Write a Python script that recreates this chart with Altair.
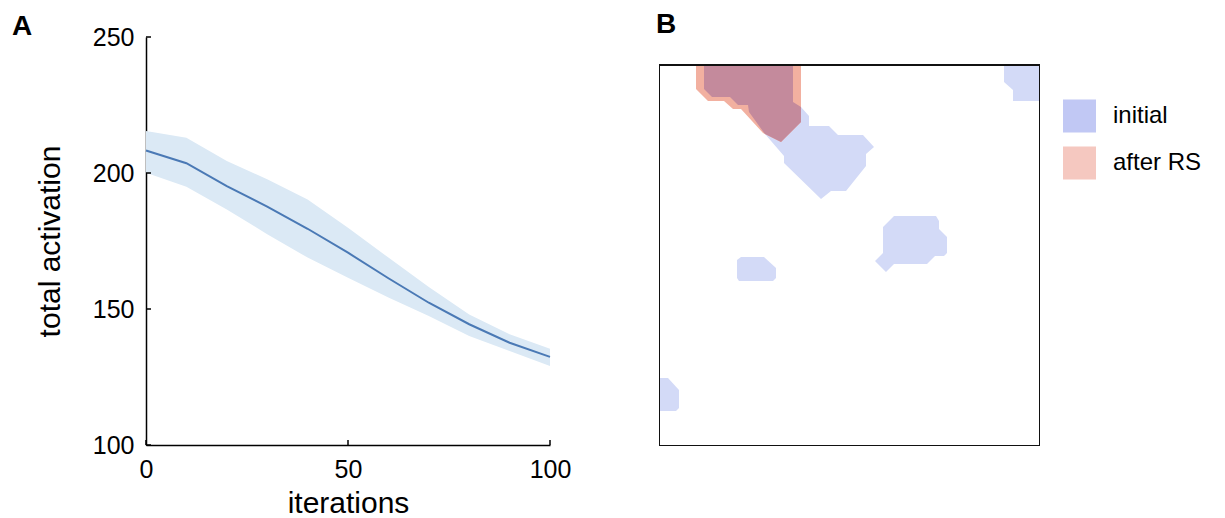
import altair as alt
import pandas as pd

# ---------------- Panel A data ----------------
iterations = [0, 10, 20, 30, 40, 50, 60, 70, 80, 90, 100]
activation_mean = [208.3, 203.6, 195.2, 187.6, 179.5, 170.7, 161.3, 152.3, 144.4, 137.6, 132.4]
activation_upper = [215.4, 213.0, 204.4, 197.7, 190.3, 179.9, 168.9, 158.1, 148.0, 140.7, 135.4]
activation_lower = [200.1, 194.9, 186.6, 177.5, 168.9, 161.5, 154.2, 147.4, 140.1, 134.6, 129.0]
y_ticks = [100, 150, 200, 250]
x_ticks = [0, 50, 100]

# ---------------- Panel B data (contour outlines on a square grid, x right, y down) ----------------
grid_size = 381
initial_blobs = [
    [[45, 0], [134, 0], [134, 37], [142, 42], [150, 51], [150, 61], [170, 61], [179, 70], [204, 70],
     [215, 82], [207, 89], [207, 101], [187, 126], [172, 126], [162, 134], [125, 98], [125, 91],
     [106, 69], [90, 47], [89, 40], [79, 40], [71, 32], [53, 32], [45, 24]],
    [[345, 0], [381, 0], [381, 36], [354, 36], [354, 25], [345, 17]],
    [[224, 162], [235, 151], [277, 151], [280, 156], [280, 164], [288, 172], [288, 188], [285, 191],
     [276, 191], [268, 199], [235, 199], [227, 207], [216, 196], [224, 188]],
    [[78, 195], [82, 192], [105, 192], [117, 203], [117, 213], [114, 216], [80, 216], [78, 213]],
    [[0, 313], [9, 313], [20, 325], [20, 343], [17, 346], [0, 346]],
]
after_rs_blobs = [
    [[37, 0], [142, 0], [142, 57], [122, 77], [104, 68], [82, 44], [74, 44], [65, 36], [49, 36], [37, 24]],
]
# region where both contours overlap (drawn in the darker mixed colour)
overlap_blobs = [
    [[45, 0], [134, 0], [134, 37], [142, 42], [142, 57], [122, 77], [106, 69], [90, 47], [89, 40],
     [79, 40], [71, 32], [53, 32], [45, 24]],
]
legend_labels = ["initial", "after RS"]
legend_colors = ["#c1c8f4", "#f5c8c0"]
fill_initial = "#d3daf7"
fill_after = "#f2b0a0"
fill_overlap = "#c48a9c"

FONT = "Liberation Sans"


def features(blobs, state):
    return [
        {"type": "Feature", "properties": {"state": state},
         "geometry": {"type": "Polygon", "coordinates": [ring + [ring[0]]]}}
        for ring in blobs
    ]


frame = [[[0, 0], [grid_size, 0], [grid_size, grid_size], [0, grid_size]]]

# ---------------- Panel A ----------------
dfA = pd.DataFrame({"iteration": iterations, "mean": activation_mean,
                    "upper": activation_upper, "lower": activation_lower})
xs = alt.Scale(domain=[0, 100], nice=False)
ys = alt.Scale(domain=[100, 250], nice=False)
x_axis = alt.Axis(values=x_ticks, title="iterations", titleFontSize=30, titleFontWeight="normal",
                  titleColor="black", titlePadding=6, labelFontSize=25, labelColor="black",
                  labelPadding=12, ticks=False, tickSize=0, domainColor="black", domainWidth=1.5,
                  grid=False, labelFlush=False, labelOverlap=False)
y_axis = alt.Axis(values=y_ticks, title="total activation", titleFontSize=30, titleFontWeight="normal",
                  titleColor="black", titlePadding=27, labelFontSize=25, labelColor="black",
                  labelPadding=12, ticks=False, tickSize=0, domainColor="black", domainWidth=1.5,
                  grid=False, labelFlush=False, labelOverlap=False)

band = alt.Chart(dfA).mark_area(color="#dbe9f5", opacity=1).encode(
    x=alt.X("iteration:Q", scale=xs, axis=x_axis),
    y=alt.Y("lower:Q", scale=ys, axis=y_axis),
    y2="upper:Q",
)
line = alt.Chart(dfA).mark_line(color="#4a79b5", strokeWidth=2).encode(
    x=alt.X("iteration:Q", scale=xs, axis=x_axis),
    y=alt.Y("mean:Q", scale=ys, axis=y_axis),
)
ytick_rules = alt.Chart(pd.DataFrame({"v": y_ticks})).mark_rule(color="black", strokeWidth=1.5).encode(
    y=alt.Y("v:Q", scale=ys, axis=y_axis), x=alt.value(0), x2=alt.value(5)
)
xtick_rules = alt.Chart(pd.DataFrame({"v": x_ticks})).mark_rule(color="black", strokeWidth=1.5).encode(
    x=alt.X("v:Q", scale=xs, axis=x_axis), y=alt.value(408), y2=alt.value(403)
)
panelA = alt.layer(band, line, ytick_rules, xtick_rules).properties(
    width=404, height=408,
    title=alt.TitleParams("A", anchor="start", frame="group", fontSize=28, fontWeight="bold",
                          color="black", offset=-38, baseline="alphabetic", dx=-134),
)

# ---------------- Panel B ----------------
proj = dict(type="identity", scale=1, translate=[0, 28])
blue = alt.Chart(alt.Data(values=features(initial_blobs, "initial"))).mark_geoshape(
    fill=fill_initial, strokeWidth=0).project(**proj)
red = alt.Chart(alt.Data(values=features(after_rs_blobs, "after RS"))).mark_geoshape(
    fill=fill_after, strokeWidth=0).project(**proj)
both = alt.Chart(alt.Data(values=features(overlap_blobs, "both"))).mark_geoshape(
    fill=fill_overlap, strokeWidth=0).project(**proj)
box = alt.Chart(alt.Data(values=features(frame, "frame"))).mark_geoshape(
    filled=False, stroke="#111111", strokeWidth=2).project(**proj)
panelB = alt.layer(blue, red, both, box).properties(
    width=grid_size, height=grid_size + 28,
    title=alt.TitleParams("B", anchor="start", frame="group", fontSize=28, fontWeight="bold",
                          color="black", offset=-24, baseline="alphabetic", dx=-3),
)

# ---------------- Legend ----------------
legend_df = pd.DataFrame({"label": legend_labels})
ly = alt.Y("label:N", axis=None,
           scale=alt.Scale(type="point", domain=legend_labels, range=[79, 126], padding=0))
swatches = alt.Chart(legend_df).mark_square(size=1089, opacity=1, strokeWidth=0).encode(
    x=alt.value(16.5), y=ly,
    color=alt.Color("label:N", scale=alt.Scale(domain=legend_labels, range=legend_colors), legend=None),
)
texts = alt.Chart(legend_df).mark_text(align="left", baseline="middle", fontSize=24, font=FONT,
                                       color="black").encode(
    x=alt.value(50), y=ly, text="label:N")
legend_panel = alt.layer(swatches, texts).properties(width=150, height=200)

chart = alt.hconcat(
    panelA,
    alt.hconcat(panelB, legend_panel, spacing=23),
    spacing=85,
).properties(
    padding={"left": 12, "top": 11, "right": 0, "bottom": 0}
).configure(font=FONT).configure_view(stroke=None)

chart.save("out.html", embed_options={"renderer": "svg", "actions": False})
